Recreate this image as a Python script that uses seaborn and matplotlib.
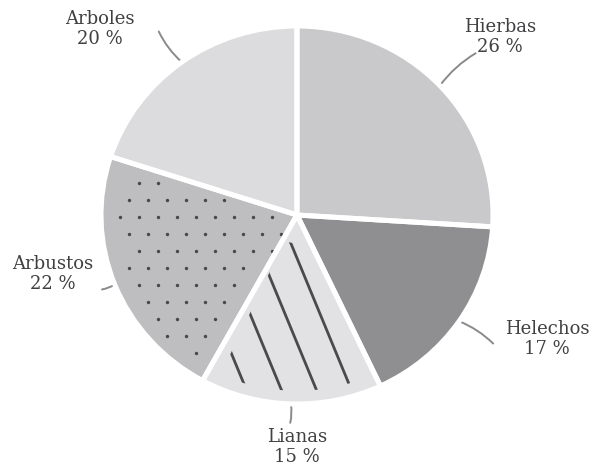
import numpy as np
import matplotlib
matplotlib.use("Agg")
import matplotlib.pyplot as plt
from matplotlib.patches import Wedge
import seaborn as sns

categories = ["Hierbas", "Helechos", "Lianas", "Arbustos", "Arboles"]
shares = [26, 17, 15, 22, 20]
labels = [f"{c}\n{v} %" for c, v in zip(categories, shares)]

colors = ["#c9c9cb", "#8f8f91", "#e2e2e4", "#bebec0", "#dcdcde"]
texture = [None, None, "lines", "dots", None]
# label text positions (layout) and leader outer radius
label_pos = [(1.036, 0.942), (1.276, -0.656), (0.0, -1.228), (-1.245, -0.312), (-1.005, 0.984)]
leader_r = [1.25, 1.21, 1.10, 1.07, 1.20]

sns.set_theme(style="white")
plt.rcParams["font.family"] = ["DejaVu Serif"]

fig = plt.figure(figsize=(5.91, 4.66), dpi=100)
ax = fig.add_axes([0, 0, 1, 1])

kw = dict(startangle=90, counterclock=False, radius=1.0)
wedges, _ = ax.pie(shares, colors=colors, wedgeprops=dict(linewidth=0), **kw)

SX, SY = 196.0, 189.0  # px per data unit
for w, tex in zip(wedges, texture):
    t1, t2 = w.theta1, w.theta2
    if tex == "lines":
        clip = Wedge((0, 0), 0.93, t1 + 4, t2 - 3, width=0.78, transform=ax.transData)
        # steep parallel strokes
        dx, dy = 57 / SX, -138 / SY
        L = 3.0
        for x0 in np.arange(-0.30, 0.30, 35 / SX):
            y0 = -0.82
            ln, = ax.plot([x0 - dx * L, x0 + dx * L], [y0 - dy * L, y0 + dy * L],
                          color="#4a4a4c", lw=2.0, solid_capstyle="round", zorder=3)
            ln.set_clip_path(clip)
    elif tex == "dots":
        inner = Wedge((0, 0), 0.92, t1 + 3, t2 - 4, width=0.80)
        xs, ys = [], []
        for j, yy in enumerate(np.arange(-1.0, 0.5, 17 / SY)):
            off = (j % 2) * 0.5 * 19 / SX
            for xx in np.arange(-1.05, 0.2, 19 / SX):
                xs.append(xx + off)
                ys.append(yy)
        pts = np.column_stack([xs, ys])
        mask = inner.get_path().contains_points(pts, transform=inner.get_patch_transform())
        ax.scatter(pts[mask, 0], pts[mask, 1], s=6, color="#48484a", linewidths=0, zorder=3)

ax.pie(shares, colors=["none"] * len(shares),
       wedgeprops=dict(linewidth=3.6, fill=False, edgecolor="white", zorder=4), **kw)

for w, lab, pos, lr in zip(wedges, labels, label_pos, leader_r):
    mid = np.deg2rad((w.theta1 + w.theta2) / 2)
    p = (np.cos(mid) * 1.0, np.sin(mid) * 1.0)
    q = (np.cos(mid) * lr, np.sin(mid) * lr)
    ax.annotate("", xy=p, xytext=q,
                arrowprops=dict(arrowstyle="-", color="#8a8a8c", lw=1.4,
                                shrinkA=0, shrinkB=0,
                                connectionstyle="arc3,rad=0.1"))
    ax.text(pos[0], pos[1], lab, ha="center", va="center", fontsize=13,
            color="#404042", linespacing=1.2)

ax.set_aspect("auto")
ax.set_xlim(-297 / 196, (591 - 297) / 196)
ax.set_ylim(-(466 - 215) / 189, 215 / 189)
ax.axis("off")

fig.savefig("out.png", dpi=100, facecolor="white")
